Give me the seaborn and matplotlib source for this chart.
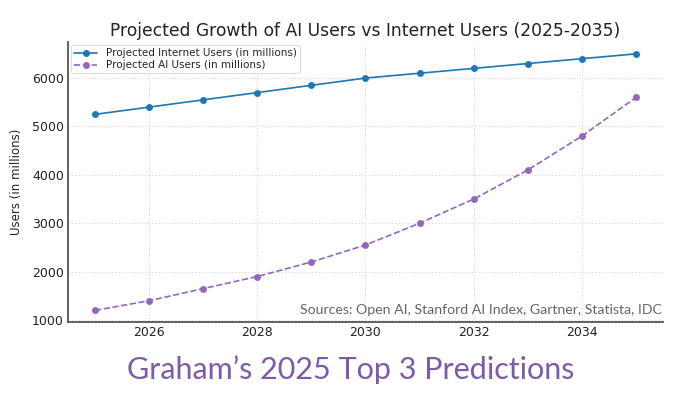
import numpy as np
import pandas as pd
import matplotlib
matplotlib.use("Agg")
import matplotlib.pyplot as plt
import seaborn as sns

years = [2025, 2026, 2027, 2028, 2029, 2030, 2031, 2032, 2033, 2034, 2035]
internet_users = [5250, 5400, 5550, 5700, 5850, 6000, 6100, 6200, 6300, 6400, 6500]
ai_users = [1200, 1400, 1650, 1900, 2200, 2550, 3000, 3500, 4100, 4800, 5600]
x_ticks = [2026, 2028, 2030, 2032, 2034]
y_ticks = [1000, 2000, 3000, 4000, 5000, 6000]

sns.set_style("whitegrid")
plt.rcParams["font.family"] = ["DejaVu Sans"]

fig = plt.figure(figsize=(7.0, 3.94), dpi=100)
ax = fig.add_axes([68 / 700, 72 / 394, 595 / 700, 280 / 394])

sns.lineplot(x=years, y=internet_users, ax=ax, color="#1f77b4", marker="o",
             markersize=5, markeredgewidth=0, linewidth=1.2,
             label="Projected Internet Users (in millions)")
sns.lineplot(x=years, y=ai_users, ax=ax, color="#9467bd", marker="o",
             markersize=5, markeredgewidth=0, linewidth=1.2, linestyle="--",
             label="Projected AI Users (in millions)")

ax.set_xlim(2024.5, 2035.5)
ax.set_ylim(960, 6745)
ax.set_xticks(x_ticks)
ax.set_yticks(y_ticks)
ax.tick_params(labelsize=9, colors="#222222", length=0, pad=3)
ax.grid(True, linestyle=(0, (1, 2)), color="#d4d4d4", linewidth=0.8)
for side in ["top", "right"]:
    ax.spines[side].set_visible(False)
for side in ["left", "bottom"]:
    ax.spines[side].set_color("#555555")
    ax.spines[side].set_linewidth(1.3)

ax.set_title("Projected Growth of AI Users vs Internet Users (2025-2035)",
             fontsize=12.3, color="#222222", pad=4)
ax.set_ylabel("Users (in millions)", fontsize=8.5, family=["Liberation Sans Narrow", "DejaVu Sans"],
              color="#222222", labelpad=6)

leg = ax.legend(loc="upper left", fontsize=7.5, frameon=True, borderpad=0.3,
                handlelength=2.2, labelspacing=0.2, borderaxespad=0.3)
leg.get_frame().set_edgecolor("#cccccc")
leg.get_frame().set_linewidth(0.6)

ax.text(0.998, 0.02, "Sources: Open AI, Stanford AI Index, Gartner, Statista, IDC",
        transform=ax.transAxes, ha="right", va="bottom", fontsize=10.2,
        family=["Lato", "DejaVu Sans"], color="#666666")

fig.text(351 / 700, 24 / 394, "Graham\u2019s 2025 Top 3 Predictions", ha="center",
         va="center", fontsize=22, family=["Lato", "DejaVu Sans"], color="#7d5ba6")

fig.savefig("out.png", dpi=100)
